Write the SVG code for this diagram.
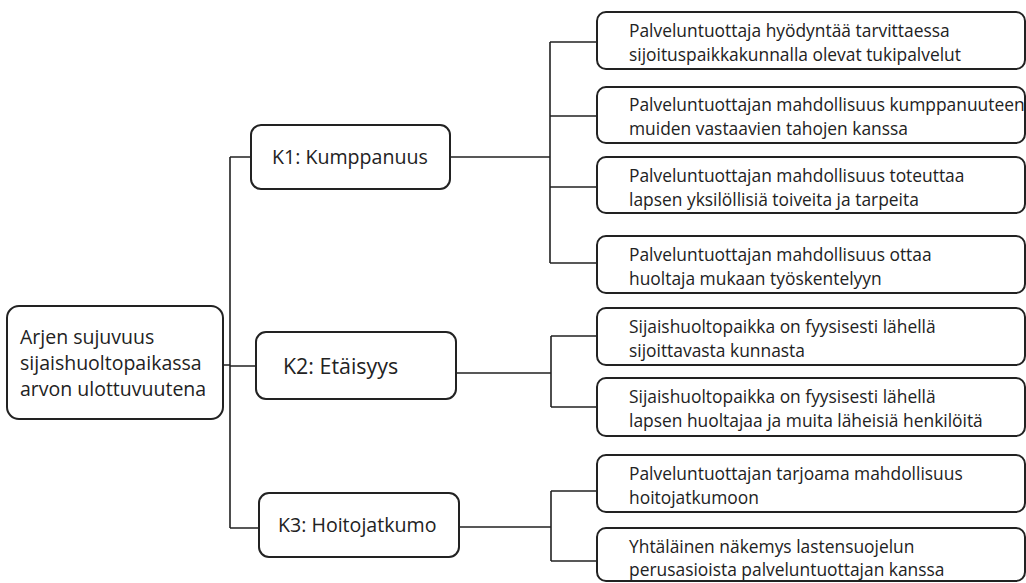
<svg xmlns="http://www.w3.org/2000/svg" width="1026" height="583" viewBox="0 0 1026 583">
<style>
.box{fill:#fff;stroke:#222;stroke-width:2}
.ln{fill:none;stroke:#222;stroke-width:1.6}
text{font-family:"Open Sans","Noto Sans","Liberation Sans",sans-serif;fill:#222}
.leaf{font-size:17.4px}
.mid{font-size:19.6px}
.root{font-size:19.5px}
</style>
<rect width="1026" height="583" fill="#fff"/>
<g id="connectors">
<path class="ln" d="M223,365 H230 M230,157 V528 M230,157 H251 M230,366 H256 M230,528 H259"/>
<path class="ln" d="M450,157 H550 M550,42 V263 M550,42 H597 M550,116 H597 M550,187 H597 M550,263 H597"/>
<path class="ln" d="M456,373 H551 M551,336 V407 M551,336 H597 M551,407 H597"/>
<path class="ln" d="M459,527 H551 M551,491 V561 M551,491 H597 M551,561 H597"/>
</g>
<g id="root">
<rect class="box" x="7" y="306" width="216" height="113" rx="12"/>
<text class="root" x="20" y="344">Arjen sujuvuus</text>
<text class="root" x="20" y="370">sijaishuoltopaikassa</text>
<text class="root" x="20" y="396">arvon ulottuvuutena</text>
</g>
<g id="k1">
<rect class="box" x="251" y="125" width="199" height="64" rx="10"/>
<text class="mid" x="272" y="164">K1: Kumppanuus</text>
</g>
<g id="k2">
<rect class="box" x="256" y="332" width="200" height="67" rx="10"/>
<text x="283" y="374" font-size="21.4">K2: Etäisyys</text>
</g>
<g id="k3">
<rect class="box" x="259" y="493" width="200" height="64" rx="10"/>
<text class="mid" x="278" y="532">K3: Hoitojatkumo</text>
</g>
<g id="leaf1">
<rect class="box" x="597" y="12" width="428" height="57" rx="9"/>
<text class="leaf" x="629" y="37">Palveluntuottaja hyödyntää tarvittaessa</text>
<text class="leaf" x="629" y="61">sijoituspaikkakunnalla olevat tukipalvelut</text>
</g>
<g id="leaf2">
<rect class="box" x="597" y="87" width="428" height="56" rx="9"/>
<text class="leaf" x="629" y="111">Palveluntuottajan mahdollisuus kumppanuuteen</text>
<text class="leaf" x="629" y="135">muiden vastaavien tahojen kanssa</text>
</g>
<g id="leaf3">
<rect class="box" x="597" y="157" width="428" height="56" rx="9"/>
<text class="leaf" x="629" y="182">Palveluntuottajan mahdollisuus toteuttaa</text>
<text class="leaf" x="629" y="206">lapsen yksilöllisiä toiveita ja tarpeita</text>
</g>
<g id="leaf4">
<rect class="box" x="597" y="236" width="428" height="57" rx="9"/>
<text class="leaf" x="629" y="261">Palveluntuottajan mahdollisuus ottaa</text>
<text class="leaf" x="629" y="285">huoltaja mukaan työskentelyyn</text>
</g>
<g id="leaf5">
<rect class="box" x="597" y="308" width="428" height="57" rx="9"/>
<text class="leaf" x="629" y="333">Sijaishuoltopaikka on fyysisesti lähellä</text>
<text class="leaf" x="629" y="357">sijoittavasta kunnasta</text>
</g>
<g id="leaf6">
<rect class="box" x="597" y="378" width="428" height="58" rx="9"/>
<text class="leaf" x="629" y="403">Sijaishuoltopaikka on fyysisesti lähellä</text>
<text class="leaf" x="629" y="427">lapsen huoltajaa ja muita läheisiä henkilöitä</text>
</g>
<g id="leaf7">
<rect class="box" x="597" y="455" width="428" height="57" rx="9"/>
<text class="leaf" x="629" y="480">Palveluntuottajan tarjoama mahdollisuus</text>
<text class="leaf" x="629" y="504">hoitojatkumoon</text>
</g>
<g id="leaf8">
<rect class="box" x="597" y="528" width="428" height="53" rx="9"/>
<text class="leaf" x="629" y="553">Yhtäläinen näkemys lastensuojelun</text>
<text class="leaf" x="629" y="576">perusasioista palveluntuottajan kanssa</text>
</g>
</svg>
